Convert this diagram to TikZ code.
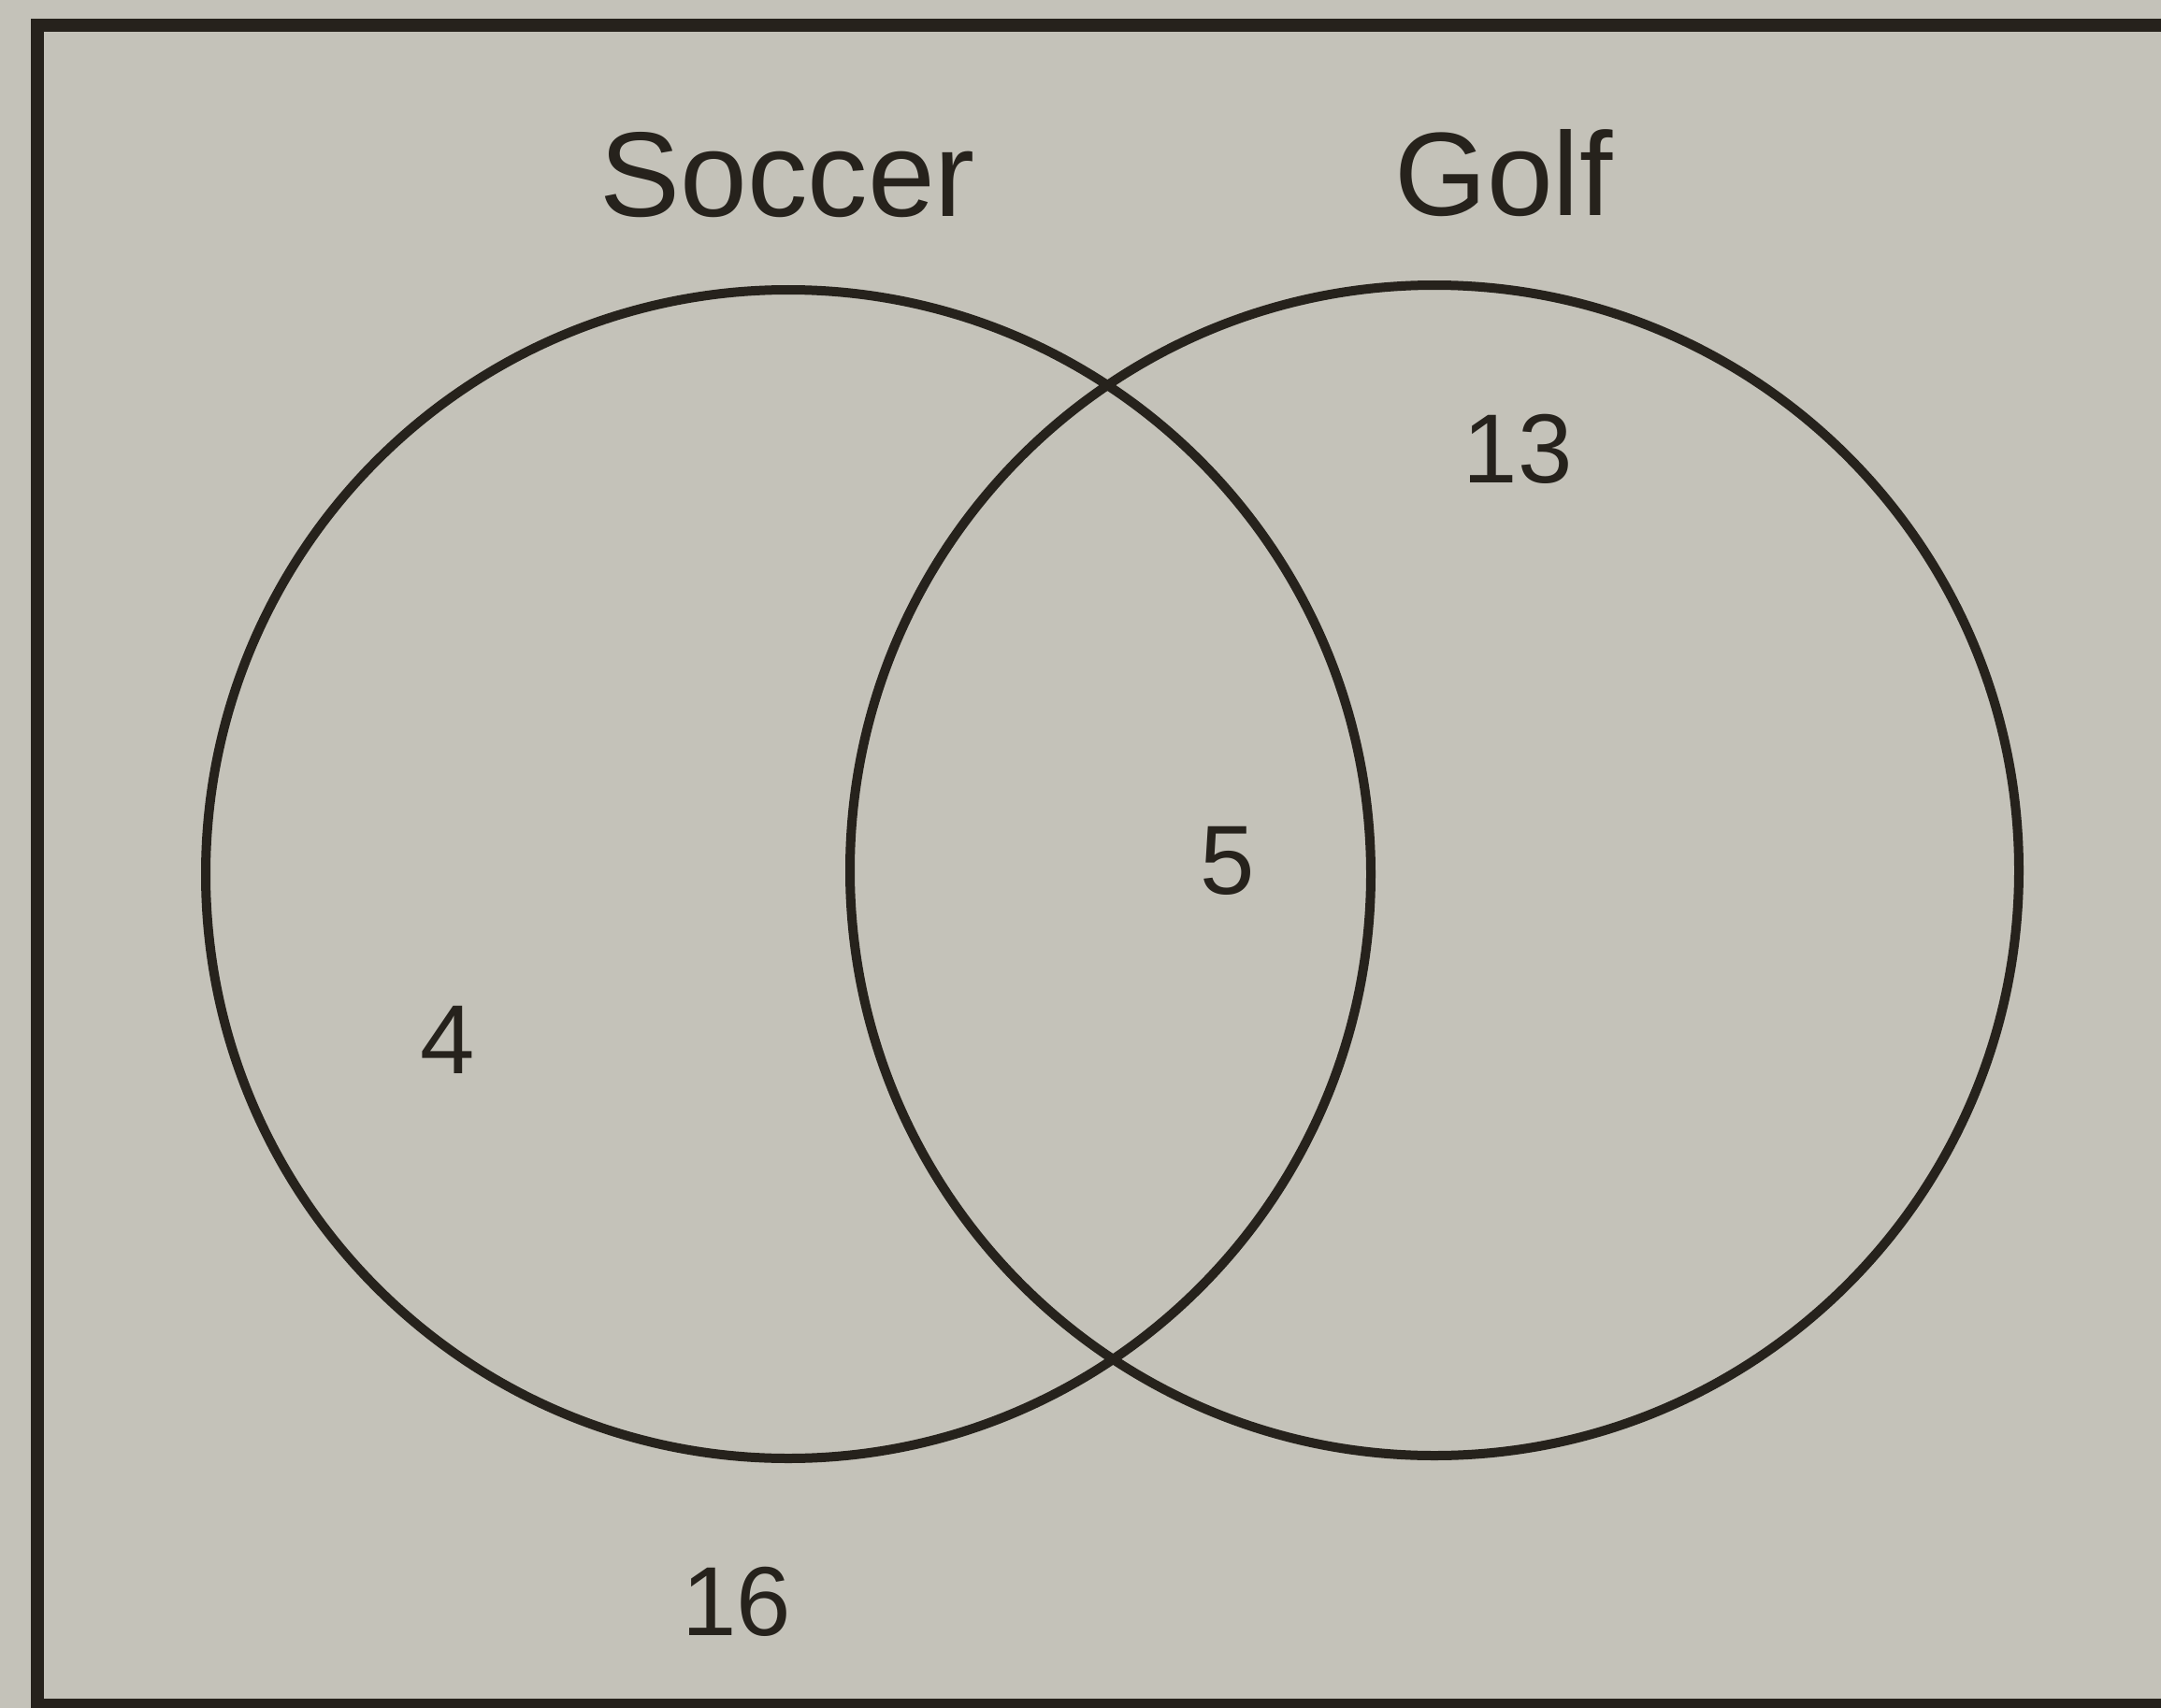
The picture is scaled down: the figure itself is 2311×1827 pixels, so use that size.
\documentclass[tikz,border=0pt]{standalone}
\usepackage{fontspec}
\setmainfont{Liberation Sans}
\definecolor{paper}{RGB}{196,194,185}
\definecolor{ink}{RGB}{38,34,28}
\tikzset{
  lbl/.style={inner sep=0pt, anchor=center, text=ink},
  setline/.style={draw=ink, line width=10pt},
}
\begin{document}
\begin{tikzpicture}[x=1pt,y=-1pt]
\useasboundingbox (0,0) rectangle (2311,1827);
\fill[paper] (0,0) rectangle (2311,1827);
% frame
\draw[draw=ink, line width=14pt] (2400,27) -- (40,27) -- (40,1824) -- (2400,1824);
% sets
\draw[setline] (843,935) ellipse [x radius=623, y radius=625];
\draw[setline] (1534,931) ellipse [x radius=625, y radius=626];
% labels
\node[lbl, font=\fontsize{129}{150}\selectfont] (soccer) at (842,187) {Soccer};
\node[lbl, font=\fontsize{127}{150}\selectfont] (golf) at (1608,185) {Golf};
\node[lbl, font=\fontsize{105}{120}\selectfont] (n13) at (1623,480) {13};
\node[lbl, font=\fontsize{105}{120}\selectfont] (n5) at (1313,921) {5};
\node[lbl, font=\fontsize{105}{120}\selectfont] (n4) at (479,1112) {4};
\node[lbl, font=\fontsize{105}{120}\selectfont] (n16) at (788,1713) {16};
\end{tikzpicture}
\end{document}
